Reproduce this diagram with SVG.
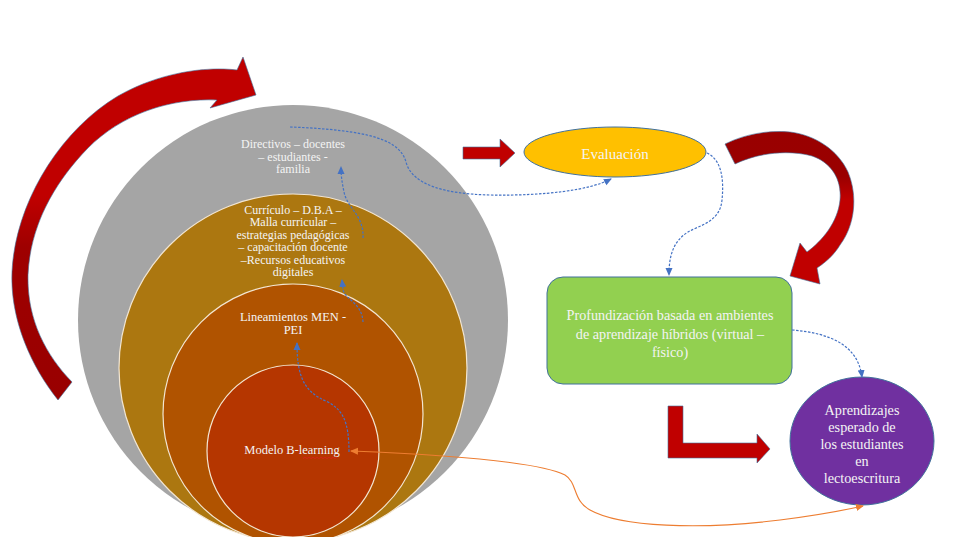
<svg xmlns="http://www.w3.org/2000/svg" width="957" height="537" viewBox="0 0 957 537">
<style>
  .t { font-family: "Liberation Serif", "Times New Roman", serif; fill: #F4F4F4; text-anchor: middle; }
  .c12 { font-size: 12px; }
  .c13 { font-size: 14.2px; }
  .blk { stroke: #41719C; stroke-width: 0.6; }
  .dash { fill: none; stroke: #4472C4; stroke-width: 1.2; stroke-dasharray: 2.5 1.5; }
  .ring { stroke: #F3E6D2; stroke-width: 1.2; }
</style>
<defs>
  <marker id="ab" markerUnits="userSpaceOnUse" markerWidth="8" markerHeight="8" viewBox="0 0 8 8" refX="7" refY="4" orient="auto">
    <path d="M0,0.5 L8,4 L0,7.5 Z" fill="#4472C4"/>
  </marker>
  <marker id="ao" markerUnits="userSpaceOnUse" markerWidth="8" markerHeight="8" viewBox="0 0 8 8" refX="7" refY="4" orient="auto-start-reverse">
    <path d="M0,0.5 L8,4 L0,7.5 Z" fill="#ED7D31"/>
  </marker>
  <linearGradient id="gL" gradientUnits="userSpaceOnUse" x1="0" y1="400" x2="0" y2="60">
    <stop offset="0" stop-color="#990000"/>
    <stop offset="0.45" stop-color="#9E0000"/>
    <stop offset="0.6" stop-color="#C00000"/>
    <stop offset="1" stop-color="#C00000"/>
  </linearGradient>
  <linearGradient id="gR" gradientUnits="userSpaceOnUse" x1="0" y1="130" x2="0" y2="285">
    <stop offset="0" stop-color="#990000"/>
    <stop offset="0.3" stop-color="#9A0000"/>
    <stop offset="0.45" stop-color="#C00000"/>
    <stop offset="1" stop-color="#C00000"/>
  </linearGradient>
</defs>
<rect width="957" height="537" fill="#FFFFFF"/>

<g id="arrow-left-curved">
  <path class="blk" fill="url(#gL)" d="M58,400 C 30,365 10,318 12,272 C 15,205 58,132 118,96 C 158,73 205,66 237,70 L 243,57 L 256,95 L 210,108 L 217,100 C 170,98 122,114 88,148 C 52,185 30,228 28,275 C 27,320 46,355 72,382 Z"/>
</g>

<g id="circles">
  <circle id="c-directivos" cx="293" cy="320" r="215" fill="#A5A5A5"/>
  <circle id="c-curriculo" class="ring" cx="293" cy="368" r="174" fill="#AC7710"/>
  <circle id="c-lineamientos" class="ring" cx="293" cy="414" r="130" fill="#B05300"/>
  <circle id="c-modelo" class="ring" cx="293" cy="451" r="86" fill="#B53600"/>
</g>

<g id="node-directivos">
  <text class="t c12" x="293" y="148">Directivos – docentes</text>
  <text class="t c12" x="293" y="160.6">– estudiantes -</text>
  <text class="t c12" x="293" y="173.2">familia</text>
</g>
<g id="node-curriculo">
  <text class="t c12" x="293" y="213.5">Currículo – D.B.A –</text>
  <text class="t c12" x="293" y="226">Malla curricular –</text>
  <text class="t c12" x="293" y="238.5">estrategias pedagógicas</text>
  <text class="t c12" x="293" y="251">– capacitación docente</text>
  <text class="t c12" x="293" y="263.5">–Recursos educativos</text>
  <text class="t c12" x="293" y="276">digitales</text>
</g>
<g id="node-lineamientos">
  <text class="t" font-size="12.5" x="293" y="321">Lineamientos MEN -</text>
  <text class="t" font-size="12.5" x="293" y="334">PEI</text>
</g>
<g id="node-modelo">
  <text class="t" font-size="12.5" x="292" y="454">Modelo B-learning</text>
  <path d="M303,458.5 l2,-1.2 l2,1.2 l2,-1.2 l2,1.2 l2,-1.2 l2,1.2 l2,-1.2 l2,1.2 l2,-1.2 l2,1.2 l2,-1.2 l2,1.2 l2,-1.2 l2,1.2 l2,-1.2 l2,1.2 l2,-1.2" fill="none" stroke="#E02020" stroke-width="0.7"/>
</g>

<g id="arrow-block-right">
  <path class="blk" fill="#C00000" d="M463,147 H500 V139 L515,153 L500,167 V159 H463 Z"/>
</g>

<g id="node-evaluacion">
  <ellipse cx="615" cy="152" rx="91" ry="25" fill="#FFC000" stroke="#41719C" stroke-width="1"/>
  <text class="t" font-size="15" x="615" y="159">Evaluación</text>
</g>

<g id="arrow-right-curved">
  <path class="blk" fill="url(#gR)" d="M725,144 C 745,134 768,130 790,132 C 815,135 838,150 848,172 C 858,196 855,225 840,245 C 834,255 826,262 817,268 L 820,284 L 790,276 L 800,243 L 807,252 C 822,241 838,222 840,200 C 842,178 830,162 812,156 C 790,150 760,152 735,164 Z"/>
</g>

<g id="node-profundizacion">
  <rect x="547" y="277" width="245" height="107" rx="16" ry="16" fill="#92D050" stroke="#41719C" stroke-width="1"/>
  <text class="t c13" x="670" y="320">Profundización basada en ambientes</text>
  <text class="t c13" x="670" y="338.5">de aprendizaje híbridos (virtual –</text>
  <text class="t c13" x="670" y="357">físico)</text>
</g>

<g id="arrow-l-shape">
  <path class="blk" fill="#C00000" d="M668,406 H683 V443 H757 V434 L770,449 L757,463 V458 H668 Z"/>
</g>

<g id="node-aprendizajes">
  <ellipse cx="862" cy="441" rx="72" ry="64" fill="#7030A0" stroke="#41719C" stroke-width="1"/>
  <text class="t c13" x="862" y="415">Aprendizajes</text>
  <text class="t c13" x="862" y="432">esperado de</text>
  <text class="t c13" x="862" y="449">los estudiantes</text>
  <text class="t c13" x="862" y="466">en</text>
  <text class="t c13" x="862" y="483">lectoescritura</text>
</g>

<g id="connectors">
  <path class="dash" marker-end="url(#ab)" d="M290,127 C 370,130 400,140 406,162 C 412,185 445,194 490,195 C 545,196 590,190 611,179"/>
  <path class="dash" marker-end="url(#ab)" d="M707,153 C 722,160 724,180 722,200 C 720,222 700,225 688,232 C 672,242 669,258 669,275"/>
  <path class="dash" marker-end="url(#ab)" d="M792,330 C 830,333 858,345 862,377"/>
  <path class="dash" marker-end="url(#ab)" d="M363,238 C 364,215 347,208 344,192 C 342,182 341,176 341,167"/>
  <path class="dash" marker-end="url(#ab)" d="M363,322 C 362,303 346,300 343,290 L 342,280"/>
  <path class="dash" marker-end="url(#ab)" d="M349,452 C 349,420 342,410 328,402 C 303,392 297,375 297,343"/>
  <path fill="none" stroke="#ED7D31" stroke-width="1.1" marker-start="url(#ao)" marker-end="url(#ao)" d="M351,451 C 450,455 540,462 565,475 C 578,483 572,500 590,510 C 620,527 700,530 780,520 C 820,515 845,510 863,506"/>
</g>
</svg>
